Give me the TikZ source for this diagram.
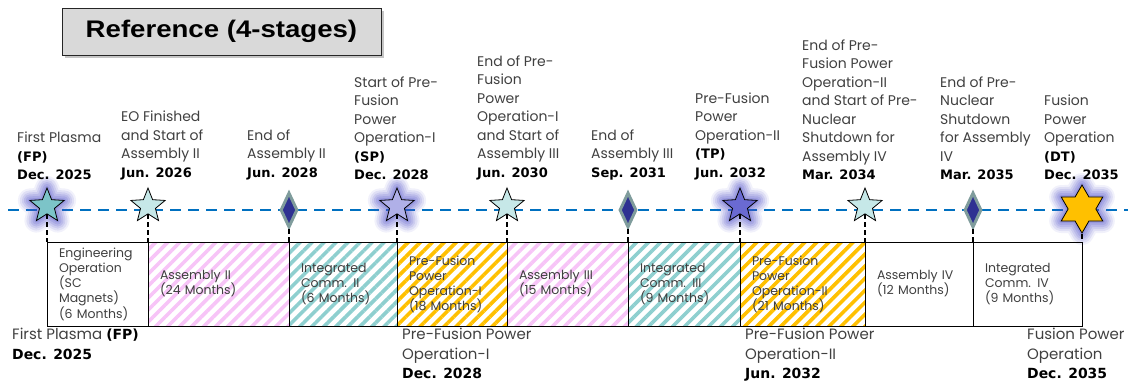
\documentclass[tikz,border=0pt]{standalone}
\usepackage{fontspec}
\usepackage{xcolor}
\usepackage{tikz}
\usetikzlibrary{shapes.geometric, patterns.meta, shadows, positioning}

\setmainfont{Poppins}
\newfontfamily\datefont[Scale=0.93]{DejaVu Sans}
\newfontfamily\titlefont[FakeStretch=1.15]{Liberation Sans}

\definecolor{txtgray}{HTML}{404040}
\definecolor{lineblue}{HTML}{0070C0}
\definecolor{hatchpink}{HTML}{F7C4F7}
\definecolor{hatchteal}{HTML}{8ECFCF}
\definecolor{hatchgold}{HTML}{FFC000}
\definecolor{starteal}{HTML}{7CC4C8}
\definecolor{starpale}{HTML}{C6E8E8}
\definecolor{starlav}{HTML}{B0B0E8}
\definecolor{starblue}{HTML}{6A6AD2}
\definecolor{navy}{HTML}{2E3192}
\definecolor{rimgray}{HTML}{7F9C9C}
\definecolor{glowc}{HTML}{5050C8}

\newcommand{\msdate}[1]{{\datefont\bfseries\color{black}#1}}

\begin{document}
\begin{tikzpicture}[x=1pt, y=-1pt]
    % Styles
    \tikzstyle{titlebox} = [rectangle, draw=black!85, line width=1pt, fill=black!15, minimum width=319pt, minimum height=47pt, font=\titlefont\bfseries\fontsize{24}{28}\selectfont, drop shadow={shadow xshift=3pt, shadow yshift=-3pt, fill=black!45}]
    \tikzstyle{timeline} = [lineblue, line width=2pt, dash pattern=on 11pt off 7pt]
    \tikzstyle{tick} = [black, line width=1.2pt, dash pattern=on 5pt off 3pt]
    \tikzstyle{glow} = [preaction={draw=glowc, draw opacity=0.08, line width=24pt, line join=round}, preaction={draw=glowc, draw opacity=0.11, line width=20pt, line join=round}, preaction={draw=glowc, draw opacity=0.13, line width=16pt, line join=round}, preaction={draw=glowc, draw opacity=0.15, line width=12pt, line join=round}, preaction={draw=glowc, draw opacity=0.17, line width=8pt, line join=round}, preaction={draw=glowc, draw opacity=0.2, line width=4pt, line join=round}]
    \tikzstyle{milestar} = [star, star points=5, star point ratio=2.3, minimum size=36pt, inner sep=0pt, draw=black, line width=0.8pt]
    \tikzstyle{hexstar} = [star, star points=6, star point ratio=1.73, minimum size=48pt, inner sep=0pt, draw=black, line width=0.8pt, fill=hatchgold]
    \tikzstyle{gate} = [diamond, minimum width=17pt, minimum height=35pt, inner sep=0pt, fill=navy, draw=rimgray, line width=3pt]
    \tikzstyle{phase} = [rectangle, draw=black, line width=1pt, anchor=north west, minimum height=84pt, inner xsep=12pt, inner ysep=0pt, outer sep=0pt, align=left, text=txtgray, font=\fontsize{12.5}{15}\selectfont]
    \tikzstyle{pinkhatch} = [pattern={Lines[angle=45, distance=8.5pt, line width=3.6pt]}, pattern color=hatchpink]
    \tikzstyle{tealhatch} = [pattern={Lines[angle=45, distance=8.5pt, line width=3.6pt]}, pattern color=hatchteal]
    \tikzstyle{goldhatch} = [pattern={Lines[angle=45, distance=8.5pt, line width=3.6pt]}, pattern color=hatchgold]
    \tikzstyle{toplabel} = [anchor=south west, align=left, inner sep=0pt, text=txtgray, font=\fontsize{14}{18.5}\selectfont]
    \tikzstyle{botlabel} = [anchor=north west, align=left, inner sep=0pt, text=txtgray, font=\fontsize{15}{19.5}\selectfont]

    \useasboundingbox (0,0) rectangle (1128,386);

    % Title
    \node[titlebox] (title) at (221.5,31.5) {Reference (4-stages)};

    % Time axis
    \coordinate (tl start) at (8,210);
    \coordinate (tl end) at (1128,210);
    \draw[timeline] (tl start) -- (tl end);

    % Milestones
    \node[milestar, glow, fill=starteal] (fp) at (47,206) {};
    \node[milestar, fill=starpale] (eo) at (148,206) {};
    \node[gate] (asm2end) at (289,210) {};
    \node[milestar, glow, fill=starlav] (sp) at (397,206) {};
    \node[milestar, fill=starpale] (pfo1end) at (507,206) {};
    \node[gate] (asm3end) at (628,210) {};
    \node[milestar, glow, fill=starblue] (tp) at (740,206) {};
    \node[milestar, fill=starpale] (pfo2end) at (865,206) {};
    \node[gate] (pnsend) at (973,210) {};
    \node[hexstar, glow] (dt) at (1082,209) {};

    % Phases
    \node[phase, text width=77pt] (eng) at (47,242) {Engineering\\Operation\\(SC\\Magnets)\\(6 Months)};
    \node[phase, pinkhatch, text width=117pt] (asm2) at (148,242) {Assembly II\\(24 Months)};
    \node[phase, tealhatch, text width=84pt] (ic2) at (289,242) {Integrated\\Comm. II\\(6 Months)};
    \node[phase, goldhatch, text width=86pt] (pfo1) at (397,242) {Pre-Fusion\\Power\\Operation-I\\(18 Months)};
    \node[phase, pinkhatch, text width=97pt] (asm3) at (507,242) {Assembly III\\(15 Months)};
    \node[phase, tealhatch, text width=88pt] (ic3) at (628,242) {Integrated\\Comm. III\\(9 Months)};
    \node[phase, goldhatch, text width=101pt] (pfo2) at (740,242) {Pre-Fusion\\Power\\Operation-II\\(21 Months)};
    \node[phase, text width=84pt] (asm4) at (865,242) {Assembly IV\\(12 Months)};
    \node[phase, text width=85pt] (ic4) at (973,242) {Integrated\\Comm. IV\\(9 Months)};

    % Ticks
    \draw[tick] (fp.south) -- (fp.south |- eng.north);
    \draw[tick] (eo.south) -- (eo.south |- asm2.north);
    \draw[tick] (asm2end.south) -- (asm2end.south |- ic2.north);
    \draw[tick] (sp.south) -- (sp.south |- pfo1.north);
    \draw[tick] (pfo1end.south) -- (pfo1end.south |- asm3.north);
    \draw[tick] (asm3end.south) -- (asm3end.south |- ic3.north);
    \draw[tick] (tp.south) -- (tp.south |- pfo2.north);
    \draw[tick] (pfo2end.south) -- (pfo2end.south |- asm4.north);
    \draw[tick] (pnsend.south) -- (pnsend.south |- ic4.north);
    \draw[tick] (dt.south) -- (dt.south |- ic4.north);

    % Milestone labels
    \node[toplabel] (fp label) at (17,180) {First Plasma\\\msdate{(FP)}\\\msdate{Dec. 2025}};
    \node[toplabel] (eo label) at (121,180) {EO Finished\\and Start of\\Assembly II\\\msdate{Jun. 2026}};
    \node[toplabel] (asm2end label) at (247,180) {End of\\Assembly II\\\msdate{Jun. 2028}};
    \node[toplabel] (sp label) at (354,180) {Start of Pre-\\Fusion\\Power\\Operation-I\\\msdate{(SP)}\\\msdate{Dec. 2028}};
    \node[toplabel] (pfo1end label) at (477,180) {End of Pre-\\Fusion\\Power\\Operation-I\\and Start of\\Assembly III\\\msdate{Jun. 2030}};
    \node[toplabel] (asm3end label) at (591,180) {End of\\Assembly III\\\msdate{Sep. 2031}};
    \node[toplabel] (tp label) at (695,180) {Pre-Fusion\\Power\\Operation-II\\\msdate{(TP)}\\\msdate{Jun. 2032}};
    \node[toplabel] (pfo2end label) at (802,180) {End of Pre-\\Fusion Power\\Operation-II\\and Start of Pre-\\Nuclear\\Shutdown for\\Assembly IV\\\msdate{Mar. 2034}};
    \node[toplabel] (pnsend label) at (940,180) {End of Pre-\\Nuclear\\Shutdown\\for Assembly\\IV\\\msdate{Mar. 2035}};
    \node[toplabel] (dt label) at (1044,180) {Fusion\\Power\\Operation\\\msdate{(DT)}\\\msdate{Dec. 2035}};

    % Stage labels
    \node[botlabel] (fp stage) at (12,328) {First Plasma \msdate{(FP)}\\\msdate{Dec. 2025}};
    \node[botlabel] (sp stage) at (402,328) {Pre-Fusion Power\\Operation-I\\\msdate{Dec. 2028}};
    \node[botlabel] (tp stage) at (745,328) {Pre-Fusion Power\\Operation-II\\\msdate{Jun. 2032}};
    \node[botlabel] (dt stage) at (1027,328) {Fusion Power\\Operation\\\msdate{Dec. 2035}};
\end{tikzpicture}
\end{document}
